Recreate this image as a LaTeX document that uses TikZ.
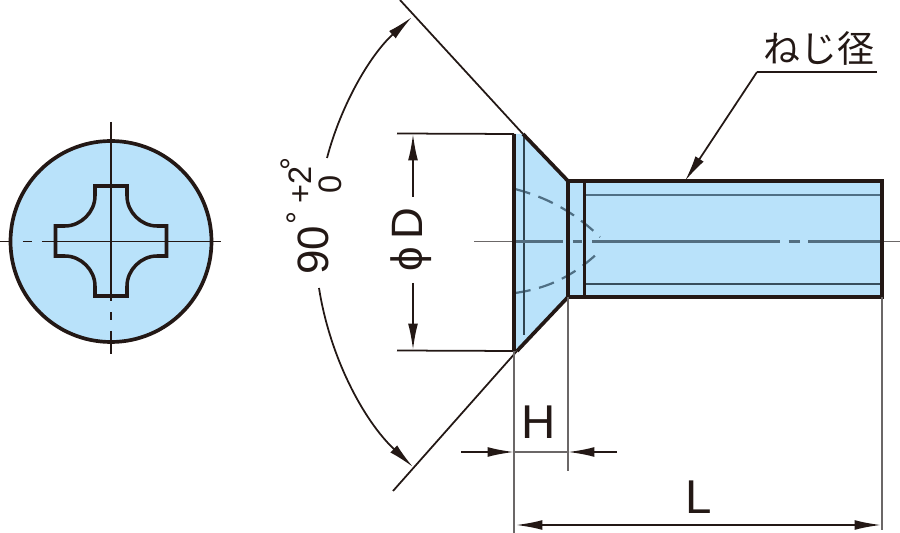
\documentclass[tikz,border=0pt]{standalone}
\usepackage{fontspec}
\setmainfont{Liberation Sans}
\newfontfamily\jpfont{Noto Sans CJK JP}
\usetikzlibrary{arrows.meta, positioning}
\definecolor{inkdark}{HTML}{231815}
\definecolor{inkgrey}{HTML}{6B6767}
\definecolor{inkslate}{HTML}{4F6F84}
\definecolor{screwblue}{HTML}{B9E2FA}

\begin{document}
\begin{tikzpicture}[
    x=0.02cm, y=-0.02cm,
    outline/.style={draw=inkdark, line width=2.1pt, line join=miter},
    thinline/.style={draw=inkdark, line width=1pt},
    extline/.style={draw=inkgrey, line width=1.05pt},
    threadline/.style={draw=inkslate, line width=1.3pt},
    hidden/.style={draw=inkslate, line width=1.25pt, dash pattern=on 9pt off 5pt},
    tip/.style={-{Latex[length=15pt, width=5.6pt]}, draw=inkdark, line width=1pt},
    tips/.style={{Latex[length=15pt, width=5.6pt]}-{Latex[length=15pt, width=5.6pt]}, draw=inkdark, line width=1pt},
    label/.style={inner sep=0pt, text=inkdark, font=\fontsize{27}{27}\selectfont},
    rotlabel/.style={inner sep=0pt, text=inkdark, rotate=90, font=\fontsize{25}{25}\selectfont},
    smalllabel/.style={inner sep=0pt, text=inkdark, rotate=90, font=\fontsize{18.5}{18.5}\selectfont}
]
\useasboundingbox (0,0) rectangle (900,533);

\coordinate (center) at (111,241.5);
\coordinate (headTL) at (514,134);
\coordinate (headTR) at (523,134);
\coordinate (neckT) at (568,181);
\coordinate (neckB) at (568,297);
\coordinate (headBR) at (517,351);
\coordinate (headBL) at (514,351);
\coordinate (endT) at (882,181);
\coordinate (endB) at (882,297);

\fill[screwblue] (center) circle (100.5);
\fill[screwblue] (headTL) -- (headTR) -- (neckT) -- (endT) -- (endB) -- (neckB) -- (headBR) -- (headBL) -- cycle;

\draw[thinline, dash pattern=on 6.8pt off 6.2pt on 5.1pt off 5.7pt on 102pt] (0,241.5) -- (222,241.5);
\draw[thinline, dash pattern=on 102pt off 6.2pt on 4.5pt off 6.2pt on 13pt] (111,122) -- (111,355);
\draw[outline] (center) circle (100.5);
\draw[outline, line width=2pt] (95,186) -- (127,186) -- (127,196) .. controls (127,212) and (141,226) .. (157,226) -- (166.5,226)
    -- (166.5,256) -- (157,256) .. controls (141,256) and (127,270) .. (127,286) -- (127,296)
    -- (95,296) -- (95,286) .. controls (95,270) and (81,256) .. (65,256) -- (55.5,256)
    -- (55.5,226) -- (65,226) .. controls (81,226) and (95,212) .. (95,196) -- cycle;

\draw[hidden] (515,189) .. controls (545,197) and (572,210) .. (600,237);
\draw[hidden] (515,293) .. controls (550,288) and (575,275) .. (601,250);
\draw[threadline] (584,195) -- (882,195);
\draw[threadline, draw=inkslate!70!black] (584,284) -- (882,284);
\draw[threadline, draw=inkslate!60!black, line width=1.7pt] (524,134) -- (524,335);

\coordinate (axisIn) at (514,241.5);
\coordinate (axisOut) at (882,241.5);
\draw[extline] (474,241.5) -- (axisIn);
\draw[extline] (axisOut) -- (900,241.5);
\draw[threadline, draw=inkslate!85!inkgrey, line width=1.4pt, dash pattern=on 27.8pt off 5.7pt on 5.1pt off 6pt on 106.6pt off 5.1pt on 6.2pt off 5.1pt on 41pt] (axisIn) -- (axisOut);

\draw[outline] (headTR) -- (neckT) -- (endT) -- (endB) -- (neckB) -- (headBR);
\draw[outline, line width=1.8pt] (neckT) -- (neckB);
\draw[outline, line width=1.8pt] (584.5,181) -- (584.5,297);
\draw[outline] (514,134) -- (514,351);

\coordinate (upperEnd) at (400,0);
\coordinate (lowerEnd) at (393,491);
\draw[thinline] (upperEnd) -- (headTR);
\draw[thinline] (lowerEnd) -- (headBR);
\draw[thinline] (397,133.5) -- (headTL);
\draw[thinline] (397,350.5) -- (headBL);

\coordinate (arcTopTip) at (412,17);
\coordinate (arcTopEnd) at (327,158);
\coordinate (arcBotTip) at (413,467);
\coordinate (arcBotEnd) at (319,288);
\draw[tip] (arcTopEnd) .. controls (341,105) and (370,55) .. (arcTopTip);
\draw[tip] (arcBotEnd) .. controls (330,358) and (364,421) .. (arcBotTip);

\coordinate (diaTop) at (413,134);
\coordinate (diaBot) at (413,350);
\draw[tip] (413,197) -- (diaTop);
\draw[tip] (413,283) -- (diaBot);

\coordinate (hLeft) at (514,452);
\coordinate (hRight) at (568,452);
\draw[tip] (461,452) -- (hLeft);
\draw[tip] (617,452) -- (hRight);
\draw[thinline, draw=inkgrey] (hLeft) -- (hRight);
\draw[extline] (headBL) -- (514,533);
\draw[extline] (neckB) -- (568,471);
\draw[extline] (endB) -- (882,530);

\coordinate (lLeft) at (516,525);
\coordinate (lRight) at (881,525);
\draw[tips] (lLeft) -- (lRight);

\coordinate (leaderEnd) at (877,72);
\coordinate (leaderBend) at (757,72);
\coordinate (leaderTip) at (685,181);
\draw[thinline] (leaderEnd) -- (leaderBend);
\draw[tip] (leaderBend) -- (leaderTip);

\node[label] (dimH) at (539,422) {H};
\node[label] (dimL) at (698.5,497) {L};
\node[inner sep=0pt, text=inkdark, font=\jpfont\fontsize{21}{21}\selectfont] (thread) at (819,48) {ねじ径};
\node[rotlabel] (dimD) at (411,240) {ϕ\,D};
\node[rotlabel] (angle) at (313,250) {90};
\node[smalllabel] (deg1) at (298,218) {°};
\node[smalllabel] (plus2) at (300.5,184.5) {+2};
\node[smalllabel] (zero) at (330,184.5) {0};
\node[smalllabel] (deg2) at (292,164) {°};

\end{tikzpicture}
\end{document}
